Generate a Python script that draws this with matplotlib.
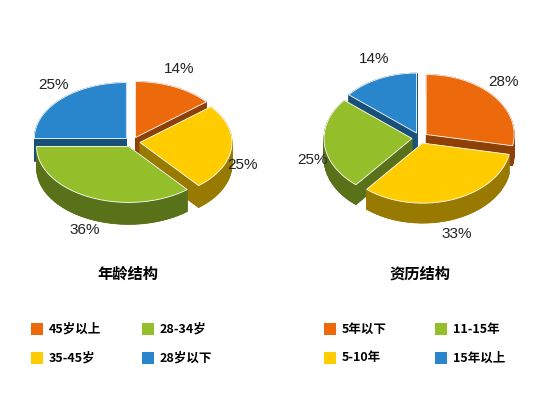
import numpy as np
import matplotlib.pyplot as plt
from matplotlib.patches import Polygon, Rectangle
from matplotlib.colors import to_rgb

plt.rcParams['font.family'] = ['Noto Sans CJK SC', 'DejaVu Sans']

age_labels = ['45岁以上', '35-45岁', '28-34岁', '28岁以下']
age_values = [14, 25, 36, 25]
exp_labels = ['5年以下', '5-10年', '11-15年', '15年以上']
exp_values = [28, 33, 25, 14]
colors = ['#EC6A0C', '#FFCC00', '#94BE2A', '#2A86CC']

W, H = 550, 420
fig = plt.figure(figsize=(5.5, 4.2), dpi=100)
ax = fig.add_axes([0, 0, 1, 1])
ax.set_xlim(0, W)
ax.set_ylim(H, 0)
ax.axis('off')


def darker(c, f=0.6):
    return tuple(v * f for v in to_rgb(c))


def pie3d(cx, cy, rx, ry, depth, values, explode, label_r):
    total = sum(values)
    start = 90.0
    slices = []
    for v, col in zip(values, colors):
        sweep = 360.0 * v / total
        a0, a1 = start, start - sweep
        mid = np.radians((a0 + a1) / 2)
        ox, oy = explode * np.cos(mid), -explode * np.sin(mid) * ry / rx
        t = np.radians(np.linspace(a0, a1, 60))
        xs = np.concatenate([[cx + ox], cx + ox + rx * np.cos(t)])
        ys = np.concatenate([[cy + oy], cy + oy - ry * np.sin(t)])
        slices.append((oy - ry * np.sin(mid), xs, ys, col, mid, v, ox, oy))
        start = a1
    slices.sort(key=lambda s: s[0])
    for _, xs, ys, col, mid, v, ox, oy in slices:
        dc = darker(col)
        top = np.column_stack([xs, ys])
        bot = top + [0, depth]
        ax.add_patch(Polygon(bot, closed=True, fc=dc, ec='none'))
        n = len(top)
        for i in range(n):
            j = (i + 1) % n
            ax.add_patch(Polygon([top[i], top[j], bot[j], bot[i]], closed=True,
                                 fc=dc, ec=dc, lw=0.5))
        ax.add_patch(Polygon(top, closed=True, fc=col, ec='white', lw=0.6))
    for _, xs, ys, col, mid, v, ox, oy in slices:
        lx = cx + ox + rx * label_r * np.cos(mid)
        ly = cy + oy - ry * label_r * 1.2 * np.sin(mid) + (depth * 0.7 if np.sin(mid) < 0 else 0)
        ax.text(lx, ly, f'{v}%', ha='center', va='center', fontsize=11,
                color='#222222', family=['Liberation Sans', 'DejaVu Sans'])


pie3d(132, 142, 92, 56, 22, age_values, 8, 1.12)
pie3d(420, 138, 88, 60, 20, exp_values, 8, 1.14)

ax.text(128, 274, '年龄结构', ha='center', va='center', fontsize=11, fontweight='bold')
ax.text(420, 274, '资历结构', ha='center', va='center', fontsize=11, fontweight='bold')


def legend(x0, labels):
    pos = [(x0, 329), (x0, 358), (x0 + 111, 329), (x0 + 111, 358)]
    for (px, py), k in zip(pos, range(4)):
        ax.add_patch(Rectangle((px - 6, py - 6), 12, 12, fc=colors[k], ec='none'))
        ax.text(px + 12, py, labels[k], ha='left', va='center', fontsize=9, fontweight='bold')


legend(37, age_labels)
legend(330, exp_labels)

fig.savefig('out.png', dpi=100)
